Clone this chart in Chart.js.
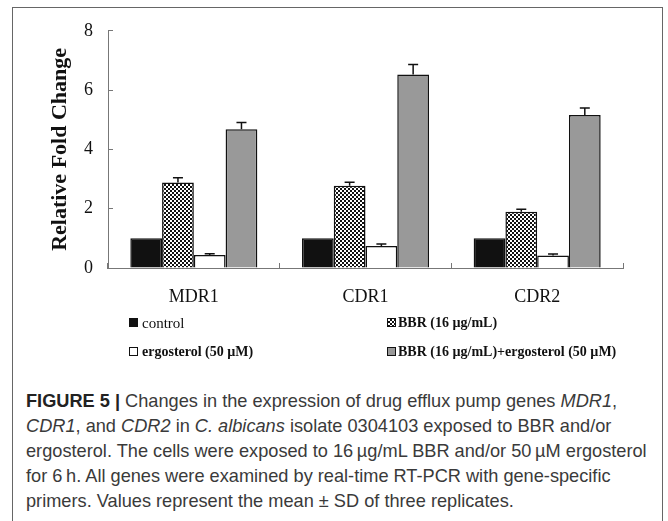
<!DOCTYPE html>
<html>
<head>
<meta charset="utf-8">
<script src="https://cdn.jsdelivr.net/npm/chart.js@4.4.0/dist/chart.umd.min.js"></script>
<style>
  html, body { margin: 0; padding: 0; background: #fff; }
  body { width: 668px; height: 521px; position: relative; overflow: hidden; }
  #frame { position: absolute; left: 12px; top: 7px; width: 651px; height: 540px;
           border: 1.5px solid #666; border-bottom: none; box-sizing: border-box; }
  #chartWrap { position: absolute; left: 0; top: 0; width: 668px; height: 320px; }
  .leg { position: absolute; font-family: "Liberation Serif", "Times New Roman", serif;
         font-size: 14px; color: #111; white-space: nowrap; line-height: 16px; }
  .leg b { font-weight: bold; }
  .sw { position: absolute; width: 9px; height: 9px; box-sizing: border-box; border: 1.2px solid #111; }
  #caption { position: absolute; left: 26px; top: 389px; font-family: "Liberation Sans", Arial, sans-serif;
             font-size: 18.2px; line-height: 25px; color: #3a3a3a; white-space: nowrap; }
  #caption b { color: #222; }
</style>
</head>
<body>
<div id="frame"></div>
<div id="chartWrap"><canvas id="c" width="668" height="320"></canvas></div>

<div class="sw" style="left:129px; top:318px; background:#111;"></div>
<div class="leg" style="left:142px; top:315px; font-size:15px;">control</div>
<div class="sw" style="left:387px; top:318px; background: repeating-conic-gradient(#111 0 25%, #fff 0 50%) 0 0/4px 4px;"></div>
<div class="leg" style="left:398px; top:315px;"><b>BBR (16 µg/mL)</b></div>
<div class="sw" style="left:129px; top:347px; background:#fff;"></div>
<div class="leg" style="left:142px; top:344px;"><b>ergosterol (50 µM)</b></div>
<div class="sw" style="left:387px; top:347px; background:#999;"></div>
<div class="leg" style="left:398px; top:344px;"><b>BBR (16 µg/mL)+ergosterol (50 µM)</b></div>

<div id="caption"><b>FIGURE 5 |</b> Changes in the expression of drug efflux pump genes <i>MDR1</i>,<br><i>CDR1</i>, and <i>CDR2</i> in <i>C. albicans</i> isolate 0304103 exposed to BBR and/or<br>ergosterol. The cells were exposed to 16&#8201;µg/mL BBR and/or 50&#8201;µM ergosterol<br>for 6&#8201;h. All genes were examined by real-time RT-PCR with gene-specific<br>primers. Values represent the mean ± SD of three replicates.</div>

<script>
const categories = ['MDR1', 'CDR1', 'CDR2'];
const seriesNames = ['control', 'BBR (16 µg/mL)', 'ergosterol (50 µM)', 'BBR (16 µg/mL)+ergosterol (50 µM)'];
const controlValues = [1.0, 1.0, 1.0];
const controlSD = [0, 0, 0];
const bbrValues = [2.88, 2.77, 1.90];
const bbrSD = [0.16, 0.12, 0.08];
const ergoValues = [0.44, 0.74, 0.42];
const ergoSD = [0.04, 0.07, 0.05];
const comboValues = [4.68, 6.53, 5.16];
const comboSD = [0.23, 0.33, 0.24];
const yTicks = [0, 2, 4, 6, 8];

// checkerboard pattern
const pc = document.createElement('canvas');
pc.width = 4; pc.height = 4;
const px = pc.getContext('2d');
px.fillStyle = '#fff'; px.fillRect(0, 0, 4, 4);
px.fillStyle = '#111'; px.fillRect(0, 0, 2, 2); px.fillRect(2, 2, 2, 2);
const ctx = document.getElementById('c').getContext('2d');
const checker = ctx.createPattern(pc, 'repeat');

const sdList = [controlSD, bbrSD, ergoSD, comboSD];

const errorBars = {
  id: 'errorBars',
  afterDatasetsDraw(chart) {
    const c = chart.ctx;
    const ys = chart.scales.y;
    c.save();
    c.strokeStyle = '#111';
    c.lineWidth = 1.5;
    chart.data.datasets.forEach((ds, d) => {
      const meta = chart.getDatasetMeta(d);
      meta.data.forEach((el, i) => {
        const sd = sdList[d][i];
        if (!sd) return;
        const yTop = ys.getPixelForValue(ds.data[i]);
        const yErr = ys.getPixelForValue(ds.data[i] + sd);
        c.beginPath();
        c.moveTo(el.x, yTop);
        c.lineTo(el.x, yErr);
        c.moveTo(el.x - 5, yErr);
        c.lineTo(el.x + 5, yErr);
        c.stroke();
      });
    });
    c.restore();
  }
};

new Chart(ctx, {
  type: 'bar',
  data: {
    labels: categories,
    datasets: [
      { label: seriesNames[0], data: controlValues, backgroundColor: '#111', borderColor: '#111', borderWidth: 1.5 },
      { label: seriesNames[1], data: bbrValues, backgroundColor: checker, borderColor: '#111', borderWidth: 1.5 },
      { label: seriesNames[2], data: ergoValues, backgroundColor: '#fff', borderColor: '#111', borderWidth: 1.5 },
      { label: seriesNames[3], data: comboValues, backgroundColor: '#999', borderColor: '#111', borderWidth: 1.5 }
    ]
  },
  options: {
    responsive: false,
    animation: false,
    events: [],
    layout: { padding: { left: 0, right: 45, top: 29, bottom: 0 } },
    datasets: { bar: { barPercentage: 1.0, categoryPercentage: 0.74 } },
    plugins: { legend: { display: false }, tooltip: { enabled: false } },
    scales: {
      x: {
        grid: { display: true, drawOnChartArea: false, drawTicks: true, tickLength: -5, color: '#777', offset: true },
        border: { display: true, color: '#777', width: 1 },
        ticks: { color: '#111', padding: 23, font: { family: 'Liberation Serif', size: 18 } },
        afterFit(scale) { scale.height = 52; }
      },
      y: {
        min: 0, max: 8,
        afterBuildTicks(scale) { scale.ticks = yTicks.map(v => ({ value: v })); },
        grid: { display: true, drawOnChartArea: false, drawTicks: true, tickLength: -5, color: '#777' },
        border: { display: true, color: '#777', width: 1 },
        ticks: { color: '#111', padding: 20, font: { family: 'Liberation Serif', size: 18 } },
        title: { display: true, text: 'Relative Fold Change', color: '#111',
                 font: { family: 'Liberation Serif', size: 22, weight: 'bold' }, padding: { top: 47, bottom: 0 } },
        afterFit(scale) { scale.width = 108; }
      }
    }
  },
  plugins: [errorBars]
});
</script>
</body>
</html>
